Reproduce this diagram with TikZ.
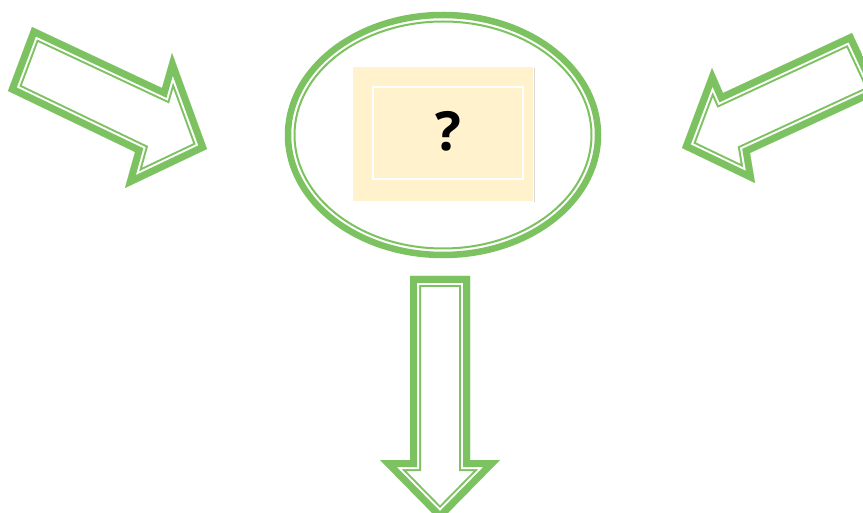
\documentclass[tikz,border=0pt]{standalone}
\usepackage{fontspec}
\setmainfont{Open Sans}
\definecolor{grn}{RGB}{125,194,96}
\definecolor{cream}{RGB}{255,242,204}
\newcommand\dblshape[1]{%
  \begin{scope}
    \clip #1;
    \draw[grn, line width=22pt, line join=miter] #1;
    \draw[white, line width=18pt, line join=miter] #1;
    \draw[grn, line width=14pt, line join=miter] #1;
  \end{scope}}
\tikzset{
  qbox/.style={fill=cream, draw=none, minimum width=180pt, minimum height=134pt, inner sep=0pt},
  qinner/.style={draw=white, line width=1.5pt, minimum width=150pt, minimum height=92pt, inner sep=0pt},
  qmark/.style={font=\bfseries\fontsize{54}{64}\selectfont, inner sep=0pt}
}
\begin{document}
\begin{tikzpicture}[x=1pt,y=-1pt]
  \clip (0,0) rectangle (863,513);
  \fill[white] (0,0) rectangle (863,513);
  % left arrow
  \dblshape{(32,27) -- (162,88) -- (172,53) -- (207,149) -- (125,188) -- (135,152) -- (8,91) -- cycle}
  % right arrow
  \dblshape{(852,33) -- (723,93) -- (712,68) -- (682,148) -- (755,183) -- (750,153) -- (880,93) -- cycle}
  % down arrow
  \dblshape{(410,276) -- (470,276) -- (470,460) -- (500,460) -- (440,521) -- (380,460) -- (410,460) -- cycle}
  % ellipse
  \draw[grn, line width=6.5pt] (443,135) ellipse [x radius=155pt, y radius=120pt];
  \draw[grn, line width=2pt] (443,135) ellipse [x radius=148.5pt, y radius=113.5pt];
  % box
  \fill[black!15] (534,68) rectangle (535,202);
  \node[qbox] (box) at (443,134) {};
  \node[qinner] (inner) at (448,133) {};
  \node[qmark] (q) at (448,131) {?};
\end{tikzpicture}
\end{document}
